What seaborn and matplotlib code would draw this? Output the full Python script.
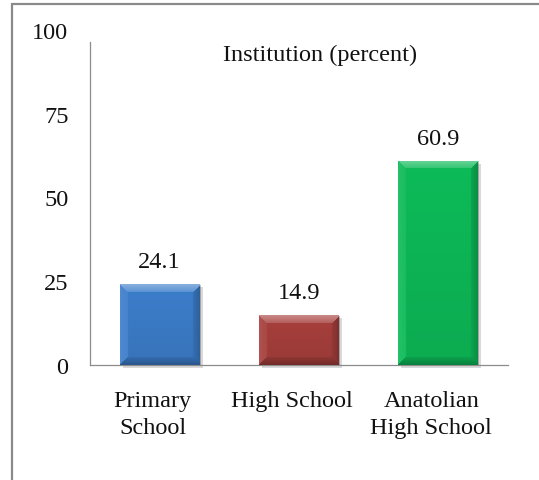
import numpy as np
import pandas as pd
import matplotlib
matplotlib.use("Agg")
import matplotlib.pyplot as plt
import matplotlib.transforms as mtransforms
from matplotlib.patches import Rectangle
import seaborn as sns

categories = ["Primary\nSchool", "High School", "Anatolian\nHigh School"]
values = [24.1, 14.9, 60.9]
bar_colors = ["#3C7DCA", "#A63F3C", "#0DBA58"]
y_ticks = [0, 25, 50, 75, 100]
title = "Institution (percent)"

FS = 17.5

sns.set_theme(style="white")
plt.rcParams["font.family"] = ["Liberation Serif", "DejaVu Serif"]

df = pd.DataFrame({"category": categories, "value": values})

fig = plt.figure(figsize=(5.39, 4.81), dpi=100)
ax = fig.add_axes([90 / 539, 1 - 366 / 481, 418 / 539, 335 / 481])

sns.barplot(data=df, x="category", y="value", hue="category",
            palette=bar_colors, legend=False, width=0.575, saturation=1,
            ax=ax, zorder=3)

ax.set_xlim(-0.5, 2.5)
ax.set_ylim(0, 100)
ax.set_yticks(y_ticks)
ax.set_yticklabels([str(t) for t in y_ticks])
ax.set_xlabel("")
ax.set_ylabel("")

for side in ["top", "right"]:
    ax.spines[side].set_visible(False)
for side in ["left", "bottom"]:
    ax.spines[side].set_color("#8c8c8c")
    ax.spines[side].set_linewidth(0.9)
ax.spines["left"].set_bounds(0, 96.5)

ax.tick_params(axis="y", length=0, pad=15.5, labelsize=FS, labelcolor="#111111")
ax.tick_params(axis="x", length=0, pad=18, labelsize=FS, labelcolor="#111111")
shift = mtransforms.ScaledTranslation(-7 / 100, 0, fig.dpi_scale_trans)
for lbl in ax.get_xticklabels():
    lbl.set_linespacing(1.38)
    lbl.set_verticalalignment("top")
    lbl.set_transform(lbl.get_transform() + shift)


def bevel(ax, patch, px=8):
    """Overlay a bevelled shading on a bar patch."""
    x0, y0 = patch.get_x(), patch.get_y()
    w, h = patch.get_width(), patch.get_height()
    (X0, Y0), (X1, Y1) = ax.transData.transform([(x0, y0), (x0 + w, y0 + h)])
    W = max(int(round(X1 - X0)), 2)
    H = max(int(round(Y1 - Y0)), 2)
    yy, xx = np.mgrid[0:H, 0:W].astype(float)
    d = np.stack([yy, H - 1 - yy, xx, W - 1 - xx])  # top, bottom, left, right
    near = d.argmin(axis=0)
    dmin = d.min(axis=0)
    rgba = np.zeros((H, W, 4))
    # subtle darkening toward the base of the face
    rgba[..., 3] = 0.08 * yy / H
    band = dmin < px
    fade = np.clip(1 - dmin / px, 0, 1) * 0.6 + 0.4
    settings = {0: (1.0, 0.38), 1: (0.0, 0.30), 2: (1.0, 0.10), 3: (0.0, 0.25)}
    for k, (shade, alpha) in settings.items():
        m = band & (near == k)
        rgba[m, 0:3] = shade
        rgba[m, 3] = alpha * fade[m]
    ax.imshow(rgba, extent=(x0, x0 + w, y0, y0 + h), origin="upper",
              aspect="auto", interpolation="bilinear", zorder=4)
    # soft drop shadow
    sx = (ax.transData.inverted().transform((X0 + 3, Y0 - 3)) - np.array([x0, y0]))
    ax.add_patch(Rectangle((x0 + sx[0], y0 + sx[1]), w, h, facecolor="#000000",
                           alpha=0.15, edgecolor="none", zorder=2, clip_on=False))


for patch, v in zip(ax.patches[:len(values)], values):
    patch.set_edgecolor("none")
    bevel(ax, patch)
    ax.annotate(f"{v:.1f}", (patch.get_x() + patch.get_width() / 2, v),
                xytext=(0, 16.5), textcoords="offset points", ha="center",
                va="center", fontsize=FS, color="#111111")

ax.set_xlim(-0.5, 2.5)
ax.set_ylim(0, 100)

fig.text(320 / 539, 1 - 55 / 481, title, ha="center", va="center",
         fontsize=FS, color="#111111")

# outer frame of the chart area
frame = Rectangle((12 / 539, -0.1), 1.2, (1 - 5 / 481) + 0.1,
                  transform=fig.transFigure, facecolor="none",
                  edgecolor="#8a8a8a", linewidth=1.6, clip_on=False)
fig.patches.append(frame)

fig.savefig("out.png", dpi=100)
